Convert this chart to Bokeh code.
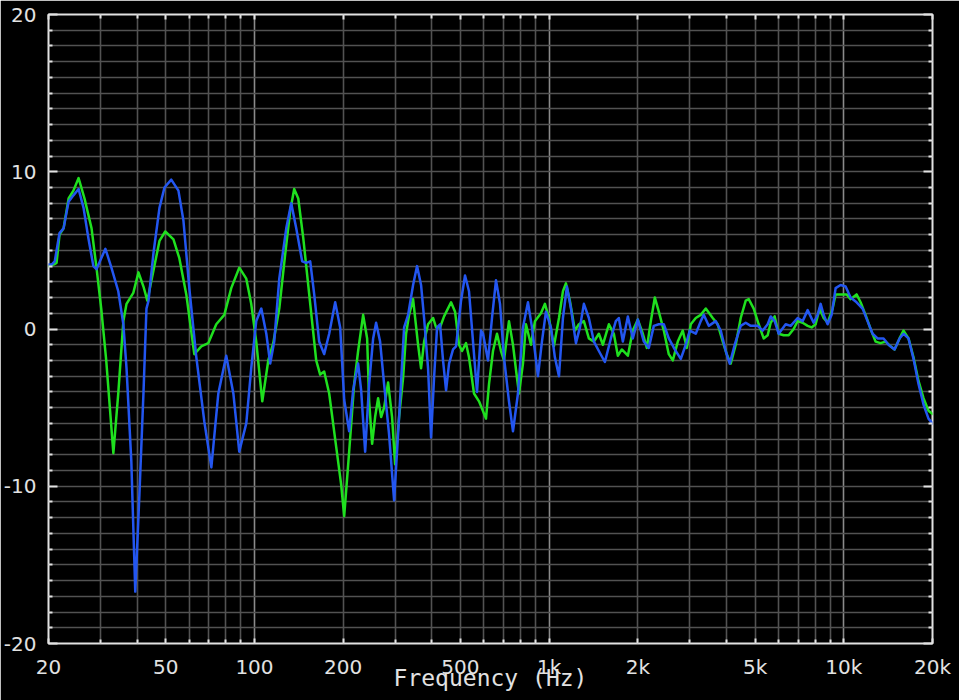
from bokeh.plotting import figure
from bokeh.models import Range1d, FixedTicker, LogAxis, LinearAxis, Grid
from bokeh.embed import file_html
from bokeh.resources import INLINE

# ---- data (frequency in Hz, level in dB) ----
green_freq = [20, 20.8, 21.3, 21.8, 22.5, 23.4, 24.3, 25.3, 26.5, 28.0,
              29.1, 30.2, 31.4, 33.2, 34.5, 35.9, 36.8, 38.8, 40.4, 42.0,
              43.3, 45.4, 47.6, 49.8, 53.1, 55.6, 58.7, 62.5, 66.0, 69.7,
              74.2, 79.0, 83.4, 88.8, 93.8, 97.5, 101.4, 106.3, 111.4, 115.8,
              121.4, 127.2, 132.2, 136.4, 140.8, 146.4, 153.4, 162.0, 167.1, 172.4,
              179.3, 189.4, 196.9, 201.6, 209.6, 217.9, 224.8, 233.8, 241.2, 245.0,
              250.8, 256.7, 262.8, 269.1, 275.4, 284.1, 293.1, 300.1, 309.6, 319.5,
              327.0, 334.8, 345.4, 359.1, 367.6, 376.4, 388.3, 403.8, 413.3, 426.4,
              440.0, 464.7, 479.4, 494.6, 506.3, 522.4, 534.7, 556.0, 578.2, 610.6,
              625.1, 644.9, 665.4, 686.5, 702.7, 730.7, 753.9, 777.8, 790.0, 815.1,
              834.4, 867.6, 895.1, 938.1, 967.8, 998.5, 1038, 1080, 1114, 1140,
              1176, 1223, 1262, 1312, 1364, 1419, 1475, 1522, 1595, 1658,
              1711, 1765, 1850, 1923, 2000, 2080, 2146, 2214, 2284, 2356,
              2450, 2547, 2628, 2733, 2841, 2932, 3025, 3145, 3270, 3401,
              3591, 3734, 3883, 4006, 4133, 4298, 4469, 4647, 4757, 4946,
              5143, 5347, 5517, 5648, 5827, 6012, 6251, 6500, 6758, 6973,
              7251, 7539, 7778, 8025, 8279, 8542, 8813, 9164, 9381, 9754,
              10221, 10546, 11051, 11402, 11856, 12328, 12818, 13328, 13859, 14410,
              14866, 15458, 15948, 16583, 17243, 17929, 18643, 19385, 20000]
green_db = [4.0, 4.1, 4.2, 6.0, 6.4, 8.3, 8.8, 9.6, 8.3, 6.4,
            3.9, 1.3, -2.0, -7.9, -4.1, 0.5, 1.6, 2.3, 3.6, 2.7,
            1.8, 3.7, 5.6, 6.2, 5.7, 4.5, 2.2, -1.6, -1.1, -0.9,
            0.3, 0.9, 2.6, 3.9, 3.2, 1.6, -0.8, -4.6, -2.0, -0.9,
            1.3, 4.8, 7.5, 8.9, 8.3, 5.8, 2.2, -2.0, -2.9, -2.7,
            -4.1, -7.5, -9.9, -11.9, -7.8, -3.5, -1.4, 0.9, -0.6, -4.6,
            -7.3, -5.6, -4.4, -5.6, -5.0, -3.4, -5.6, -8.6, -5.6, -3.1,
            -0.3, 0.9, 1.9, -1.0, -2.5, -0.8, 0.3, 0.7, 0.1, 0.1,
            0.8, 1.7, 1.1, -1.0, -1.4, -0.9, -1.8, -4.1, -4.6, -5.7,
            -3.5, -1.4, -0.3, -1.4, -2.0, 0.5, -1.0, -3.1, -4.1, -2.2,
            0.3, -1.0, 0.5, 1.0, 1.6, 0.7, -1.1, 0.7, 2.4, 2.9,
            1.8, -0.1, 0.3, 0.5, -0.6, -0.8, -0.3, -1.0, 0.3, -0.3,
            -1.7, -1.3, -1.7, -0.1, 0.6, -0.3, -1.2, 0.5, 2.0, 1.1,
            -0.1, -1.6, -2.0, -0.8, -0.1, -1.2, 0.3, 0.7, 0.9, 1.3,
            0.7, 0.3, -0.8, -1.6, -2.2, -1.0, 0.7, 1.8, 1.9, 1.3,
            0.3, -0.6, -0.4, 0.4, 0.8, -0.3, -0.4, -0.4, 0.0, 0.5,
            0.4, 0.2, 0.1, 0.3, 1.3, 0.7, 0.4, 1.3, 2.2, 2.2,
            2.2, 1.9, 2.2, 1.7, 0.9, 0.0, -0.8, -0.9, -0.8, -1.1,
            -1.3, -0.6, -0.1, -0.6, -1.8, -3.3, -4.4, -5.2, -5.4]

blue_freq = [20, 20.5, 21.0, 21.8, 22.5, 23.4, 24.3, 25.3, 26.3, 27.3,
             28.4, 29.1, 30.2, 31.2, 32.7, 34.5, 35.9, 36.8, 38.2, 39.4,
             40.7, 42.0, 43.0, 43.7, 45.4, 47.6, 49.5, 52.2, 55.2, 57.4,
             60.1, 63.5, 67.6, 71.4, 75.4, 80.2, 84.8, 88.8, 93.8, 97.5,
             101.4, 105.5, 109.7, 113.1, 116.7, 121.4, 128.2, 133.3, 138.6, 145.2,
             149.8, 154.6, 159.5, 165.8, 172.4, 179.3, 187.9, 195.4, 201.6, 209.6,
             216.2, 224.8, 230.2, 237.5, 245.0, 252.8, 258.7, 266.9, 275.4, 286.3,
             297.8, 309.6, 322.0, 332.2, 345.4, 356.3, 367.6, 376.4, 388.3, 397.5,
             406.9, 416.6, 426.4, 436.5, 446.9, 457.5, 472.0, 483.2, 502.4, 518.3,
             534.7, 551.7, 569.2, 587.3, 596.5, 620.3, 639.9, 660.2, 681.2, 702.7,
             730.7, 753.9, 783.9, 815.1, 847.6, 874.4, 916.4, 945.4, 975.4, 1014,
             1046, 1080, 1114, 1149, 1186, 1233, 1272, 1312, 1364, 1419,
             1475, 1546, 1620, 1684, 1724, 1779, 1850, 1923, 2000, 2096,
             2179, 2266, 2356, 2450, 2547, 2669, 2798, 2909, 3001, 3145,
             3270, 3348, 3481, 3676, 3823, 3975, 4101, 4264, 4469, 4647,
             4832, 5103, 5306, 5517, 5648, 5827, 6012, 6350, 6602, 6973,
             7251, 7539, 7900, 8151, 8344, 8542, 8813, 9092, 9381, 9754,
             10142, 10546, 11051, 11581, 12042, 12521, 13020, 13643, 14186, 14866,
             15458, 15948, 16583, 17243, 17929, 18643, 19385, 20000]
blue_db = [4.1, 4.1, 4.3, 6.1, 6.4, 8.1, 8.5, 8.9, 7.7, 5.8,
           4.0, 3.8, 4.5, 5.1, 3.9, 2.4, 0.3, -2.5, -8.4, -16.7,
           -10.5, -4.1, 1.3, 1.8, 4.8, 7.7, 9.0, 9.5, 8.8, 6.9,
           2.6, -1.8, -5.9, -8.8, -4.1, -1.7, -4.1, -7.8, -6.0, -2.5,
           0.5, 1.3, -0.3, -2.2, -0.8, 3.2, 6.4, 8.0, 6.4, 4.3,
           4.2, 4.3, 2.2, -0.8, -1.6, -0.3, 1.7, 0.1, -4.5, -6.5,
           -3.9, -2.2, -3.9, -7.8, -3.5, -0.6, 0.4, -0.8, -3.5, -6.7,
           -10.9, -5.6, 0.1, 0.9, 2.8, 4.0, 2.8, 0.7, -2.5, -6.9,
           -3.1, 0.1, 0.3, -2.0, -3.9, -2.2, -1.3, -1.1, 1.8, 3.4,
           2.4, -0.8, -4.0, -0.1, -0.3, -2.0, 0.7, 3.1, 1.6, -1.8,
           -4.6, -6.5, -4.1, 0.1, 1.7, 0.1, -3.0, -0.8, 1.1, 0.1,
           -1.8, -3.0, 0.7, 2.7, 1.3, -0.9, 0.1, 1.6, 0.7, -0.8,
           -1.4, -2.1, -0.6, 0.5, 0.7, -0.8, 0.8, -0.6, 0.6, -0.8,
           -1.2, 0.2, 0.3, 0.3, -0.6, -1.3, -1.9, -1.0, -0.1, -0.3,
           0.5, 0.9, 0.2, 0.5, -0.1, -1.4, -2.2, -1.0, 0.2, 0.4,
           0.2, 0.2, -0.1, 0.3, 0.8, 0.5, -0.3, 0.3, 0.2, 0.7,
           0.5, 1.2, 0.4, 0.9, 1.6, 0.9, 0.3, 0.9, 2.6, 2.8,
           2.7, 2.0, 1.7, 1.3, 0.5, -0.3, -0.6, -0.6, -1.0, -1.3,
           -0.6, -0.3, -0.6, -1.9, -3.5, -4.8, -5.7, -6.0]

assert len(green_freq) == len(green_db)
assert len(blue_freq) == len(blue_db)

x_tick_values = [20, 50, 100, 200, 500, 1000, 2000, 5000, 10000, 20000]
x_tick_labels = ["20", "50", "100", "200", "500", "1k", "2k", "5k", "10k", "20k"]
x_minor_ticks = [30, 40, 60, 70, 80, 90, 300, 400, 600, 700, 800, 900,
                 3000, 4000, 6000, 7000, 8000, 9000]
x_grid_lines = [30, 40, 50, 60, 70, 80, 90,
                200, 300, 400, 500, 600, 700, 800, 900,
                2000, 3000, 4000, 5000, 6000, 7000, 8000, 9000]
x_decade_lines = [100, 1000, 10000]
y_tick_values = [-20, -10, 0, 10, 20]
y_tick_labels = ["-20", "-10", "0", "10", "20"]
y_minor_ticks = [v for v in range(-19, 20) if v % 10 != 0]
x_label_text = "Frequency (Hz)"

FG = "#e2e2e2"
GRID = "#525252"
GRID_DECADE = "#8a8a8a"

p = figure(width=959, height=700, x_axis_type="log",
           x_range=Range1d(20, 20000), y_range=Range1d(-20, 20),
           output_backend="svg", toolbar_location=None,
           background_fill_color="black", border_fill_color="black",
           min_border_left=47, min_border_top=14, min_border_right=27,
           min_border_bottom=57)

p.outline_line_color = FG
p.outline_line_width = 2
p.xgrid.visible = False
p.ygrid.visible = False

# grids
p.add_layout(Grid(dimension=0, ticker=FixedTicker(ticks=x_grid_lines),
                  grid_line_color=GRID, grid_line_width=1.6))
p.add_layout(Grid(dimension=0, ticker=FixedTicker(ticks=x_decade_lines),
                  grid_line_color=GRID_DECADE, grid_line_width=1.6))
p.add_layout(Grid(dimension=1, ticker=FixedTicker(ticks=y_minor_ticks + y_tick_values),
                  grid_line_color=GRID, grid_line_width=1.6))

# bottom axis
xa = p.xaxis[0]
xa.ticker = FixedTicker(ticks=x_tick_values, minor_ticks=x_minor_ticks)
xa.major_label_overrides = {v: t for v, t in zip(x_tick_values, x_tick_labels)}
xa.axis_line_color = None
xa.major_tick_in = 5
xa.major_tick_out = 0
xa.minor_tick_in = 4
xa.minor_tick_out = 0
xa.major_tick_line_color = FG
xa.minor_tick_line_color = FG
xa.major_tick_line_width = 2
xa.minor_tick_line_width = 2
xa.major_label_text_color = FG
xa.major_label_text_font = "DejaVu Sans"
xa.major_label_text_font_size = "20px"
xa.major_label_standoff = 11
xa.axis_label = x_label_text
xa.axis_label_text_font = "DejaVu Sans Mono"
xa.axis_label_text_font_style = "normal"
xa.axis_label_text_font_size = "23px"
xa.axis_label_text_color = FG
xa.axis_label_standoff = -17

# left axis
ya = p.yaxis[0]
ya.ticker = FixedTicker(ticks=y_tick_values, minor_ticks=y_minor_ticks)
ya.major_label_overrides = {v: t for v, t in zip(y_tick_values, y_tick_labels)}
ya.axis_line_color = None
ya.major_tick_in = 9
ya.major_tick_out = 0
ya.minor_tick_in = 4
ya.minor_tick_out = 0
ya.major_tick_line_color = FG
ya.minor_tick_line_color = FG
ya.major_tick_line_width = 2
ya.minor_tick_line_width = 2
ya.major_label_text_color = FG
ya.major_label_text_font = "DejaVu Sans"
ya.major_label_text_font_size = "20px"
ya.major_label_standoff = 12

# top and right axes (tick marks only)
top = LogAxis(ticker=FixedTicker(ticks=x_tick_values, minor_ticks=x_minor_ticks),
              axis_line_color=None, major_tick_in=5, major_tick_out=0,
              minor_tick_in=4, minor_tick_out=0,
              major_tick_line_color=FG, minor_tick_line_color=FG,
              major_tick_line_width=2, minor_tick_line_width=2,
              major_label_text_color=None, major_label_standoff=0)
p.add_layout(top, "above")
right = LinearAxis(ticker=FixedTicker(ticks=y_tick_values, minor_ticks=y_minor_ticks),
                   axis_line_color=None, major_tick_in=9, major_tick_out=0,
                   minor_tick_in=4, minor_tick_out=0,
                   major_tick_line_color=FG, minor_tick_line_color=FG,
                   major_tick_line_width=2, minor_tick_line_width=2,
                   major_label_text_color=None, major_label_standoff=0)
p.add_layout(right, "right")

# curves
p.line(green_freq, green_db, line_color="#1fe01f", line_width=2.5,
       line_join="round", line_cap="round")
p.line(blue_freq, blue_db, line_color="#2356f0", line_width=2.5,
       line_join="round", line_cap="round")

open("out.html", "w").write(file_html(p, INLINE))
